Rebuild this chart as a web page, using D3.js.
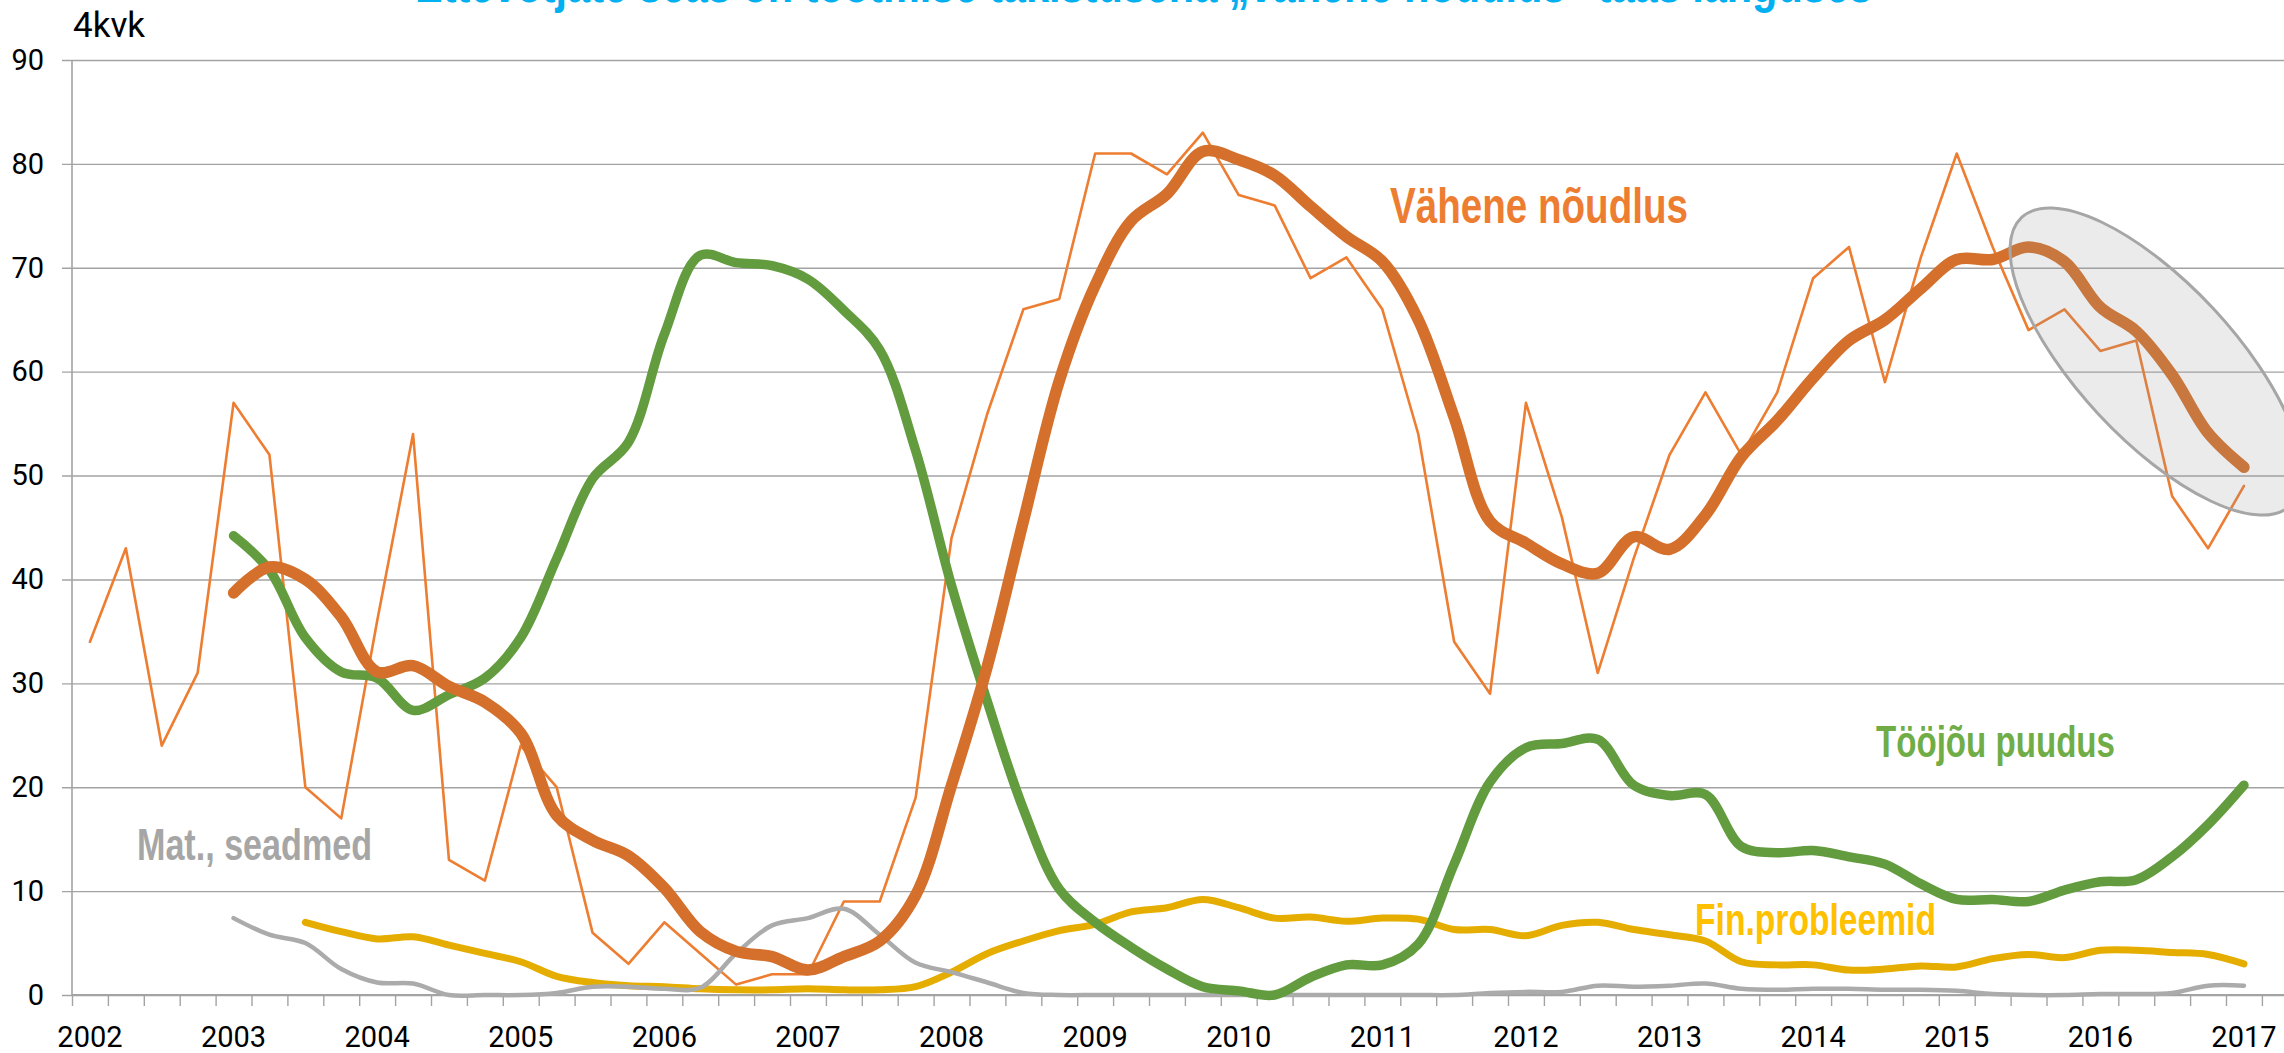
<!DOCTYPE html>
<html><head><meta charset="utf-8">
<script src="https://cdn.jsdelivr.net/npm/d3@7"></script>
<style>
html,body{margin:0;padding:0;background:#fff;overflow:hidden}
svg{display:block}
</style></head>
<body>
<svg id="chart" width="2284" height="1053"></svg>
<script>
// ---------- data ----------
const years = ["2002","2003","2004","2005","2006","2007","2008","2009","2010","2011","2012","2013","2014","2015","2016","2017"];
const title = "Ettevõtjate seas on tootmise takistusena „vähene nõudlus“ taas languses";
const yUnit = "4kvk";
const yTicks = [0,10,20,30,40,50,60,70,80,90];

// Vähene nõudlus, quarterly answers (2002Q1 .. 2017Q1)
const noudlusRaw = [34,43,24,31,57,52,20,17,36,54,13,11,24,20,6,3,7,4,1,2,2,9,9,19,44,56,66,67,81,81,79,83,77,76,69,71,66,54,34,29,57,46,31,42,52,58,52,58,69,72,59,71,81,72,64,66,62,63,48,43,49];
// Vähene nõudlus, smoothed (2003Q1 .. 2017Q1)
const noudlusSmooth = [38.7,41.2,40.0,36.4,31.1,31.7,29.7,28.2,25.2,17.3,14.9,13.4,10.3,6.1,4.2,3.7,2.4,3.7,5.2,9.6,20.2,31.7,45.6,59.1,68.3,74.5,77.1,81.2,80.4,78.9,75.9,73.0,70.6,65.0,55.6,45.6,43.5,41.5,40.6,44.1,42.9,46.2,51.8,55.3,59.4,63.0,65.0,68.0,70.8,70.8,72.0,70.6,66.2,63.9,59.7,54.1,50.8];
// Tööjõu puudus, smoothed (2003Q1 .. 2017Q1)
const toojouSmooth = [44.2,40.9,34.4,31.1,30.5,27.4,28.9,30.5,34.4,42.0,49.7,53.2,63.6,71.2,70.5,70.2,68.9,65.9,62.1,52.4,39.4,28.2,17.9,10.2,7.0,4.6,2.5,0.8,0.4,0.0,1.7,2.9,2.9,4.9,12.6,20.5,23.8,24.2,24.6,20.2,19.2,19.3,14.3,13.7,13.9,13.3,12.6,10.7,9.2,9.2,9.0,10.1,10.9,11.1,13.3,16.4,20.2];
// Fin.probleemid, smoothed (2003Q3 .. 2017Q1)
const finSmooth = [7.0,6.1,5.4,5.6,4.8,4.0,3.2,1.8,1.2,0.9,0.8,0.6,0.5,0.5,0.6,0.5,0.5,0.8,2.2,4.0,5.2,6.2,6.8,8.0,8.4,9.2,8.4,7.4,7.5,7.1,7.4,7.3,6.3,6.3,5.7,6.7,7.0,6.3,5.8,5.2,3.2,2.9,2.9,2.4,2.5,2.8,2.7,3.5,3.9,3.6,4.3,4.3,4.1,3.9,3.0];
// Mat., seadmed, smoothed (2003Q1 .. 2017Q1)
const matSmooth = [7.4,5.8,5.0,2.5,1.2,1.1,0,0,0,0.2,0.8,0.8,0.6,0.7,4.0,6.7,7.4,8.3,5.8,3.1,2.2,1.2,0.2,0,0,0,0,0,0,0,0,0,0,0,0,0.2,0.3,0.3,0.9,0.8,0.9,1.1,0.6,0.5,0.6,0.6,0.5,0.5,0.4,0.1,0,0,0.1,0.1,0.2,0.9,0.9];

// ---------- layout ----------
const W = 2284, H = 1053;
const mLeft = 72, mTop = 60, mBottom = 995;
const step = 35.9;
const nBands = 62; // 2002Q1 .. 2017Q2 (last one outside picture)
const quarters = [];
years.forEach(yr => ["Q1","Q2","Q3","Q4"].forEach(q => quarters.push(yr + q)));
const domainQ = quarters.slice(0, nBands);

const x = d3.scaleBand().domain(domainQ).range([mLeft, mLeft + step * nBands]).padding(0);
const xc = q => x(q) + x.bandwidth() / 2;
const xLin = d3.scaleLinear().domain([0, nBands]).range([mLeft, mLeft + step * nBands]);
const y = d3.scaleLinear().domain([0, 90]).range([mBottom, mTop]);

const svg = d3.select("#chart");
const FONT = "'Liberation Sans Narrow','Roboto','DejaVu Sans Condensed',sans-serif";

// title (cut off at the top, as in the original picture)
svg.append("text").attr("x", 415).attr("y", 2)
  .attr("textLength", 1457).attr("lengthAdjust", "spacingAndGlyphs")
  .style("font-family", "'Liberation Sans',Arial,sans-serif").style("font-weight", "bold")
  .style("font-size", "52px").style("fill", "#00b0f0").text(title);

// y grid + axis
const gy = svg.append("g").attr("transform", `translate(${mLeft},0)`)
  .call(d3.axisLeft(y).tickValues(yTicks).tickSize(-(W - mLeft)).tickSizeOuter(0).tickPadding(28));
gy.select(".domain").remove();
gy.selectAll(".tick line").attr("x1", -10).attr("stroke", "#a3a3a3").attr("stroke-width", 1.4);
gy.selectAll(".tick text").style("font-family", FONT).style("font-size", "29px").style("fill", "#000")
  .attr("x", -28);
svg.append("line").attr("x1", mLeft).attr("x2", mLeft).attr("y1", mTop).attr("y2", mBottom)
  .attr("stroke", "#a3a3a3").attr("stroke-width", 1.6);

// x axis
const gx = svg.append("g").attr("transform", `translate(0,${mBottom})`)
  .call(d3.axisBottom(xLin).tickValues(d3.range(0, nBands + 1)).tickSize(11).tickSizeOuter(0).tickFormat(""));
gx.select(".domain").attr("stroke", "#a3a3a3").attr("stroke-width", 2.2).attr("d", `M${mLeft},0H${W}`);
gx.selectAll(".tick line").attr("stroke", "#a3a3a3").attr("stroke-width", 1.4);

svg.append("g").selectAll("text").data(years).join("text")
  .attr("x", d => xc(d + "Q1")).attr("y", 1047).attr("text-anchor", "middle")
  .style("font-family", FONT).style("font-size", "29px").style("fill", "#000").text(d => d);

// unit label
svg.append("text").attr("x", 73).attr("y", 37)
  .style("font-family", FONT).style("font-size", "35px").style("fill", "#000").text(yUnit);

// ---------- series ----------
const smooth = d3.line().x(d => xc(d.q)).y(d => y(d.v)).curve(d3.curveCatmullRom.alpha(0.5));
const straight = d3.line().x(d => xc(d.q)).y(d => y(d.v)).curve(d3.curveLinear);
const fromQ = (arr, startIdx) => arr.map((v, i) => ({ q: quarters[startIdx + i], v }));

const series = [
  { data: fromQ(noudlusRaw, 0), gen: straight, color: "#ed7d31", w: 2.6 },
  { data: fromQ(finSmooth, 6), gen: smooth, color: "#e5ad00", w: 7 },
  { data: fromQ(matSmooth, 4), gen: smooth, color: "#ababab", w: 4.5 },
  { data: fromQ(toojouSmooth, 4), gen: smooth, color: "#629c3f", w: 9.5 },
  { data: fromQ(noudlusSmooth, 4), gen: smooth, color: "#d4702b", w: 11.5 }
];
svg.append("g").selectAll("path").data(series).join("path")
  .attr("d", s => s.gen(s.data)).attr("fill", "none")
  .attr("stroke", s => s.color).attr("stroke-width", s => s.w)
  .attr("stroke-linecap", "round").attr("stroke-linejoin", "round");

// highlight ellipse
svg.append("ellipse").attr("cx", 2156).attr("cy", 361.5).attr("rx", 197).attr("ry", 78)
  .attr("transform", "rotate(47,2156,361.5)")
  .attr("fill", "rgba(150,150,150,0.19)").attr("stroke", "#a6a6a6").attr("stroke-width", 3);

// series labels
const labels = [
  { t: "Vähene nõudlus", x: 1390, y: 223, w: 298, fs: 50, c: "#ed7d31" },
  { t: "Tööjõu puudus", x: 1876, y: 757, w: 239, fs: 45, c: "#70ad47" },
  { t: "Fin.probleemid", x: 1695, y: 935, w: 241, fs: 45, c: "#ffc000" },
  { t: "Mat., seadmed", x: 137, y: 860, w: 235, fs: 45, c: "#a6a6a6" }
];
svg.append("g").selectAll("text").data(labels).join("text")
  .attr("x", d => d.x).attr("y", d => d.y)
  .attr("textLength", d => d.w).attr("lengthAdjust", "spacingAndGlyphs")
  .style("font-family", "'Liberation Sans',Arial,sans-serif").style("font-weight", "bold")
  .style("font-size", d => d.fs + "px").style("fill", d => d.c).text(d => d.t);
</script>
</body></html>
